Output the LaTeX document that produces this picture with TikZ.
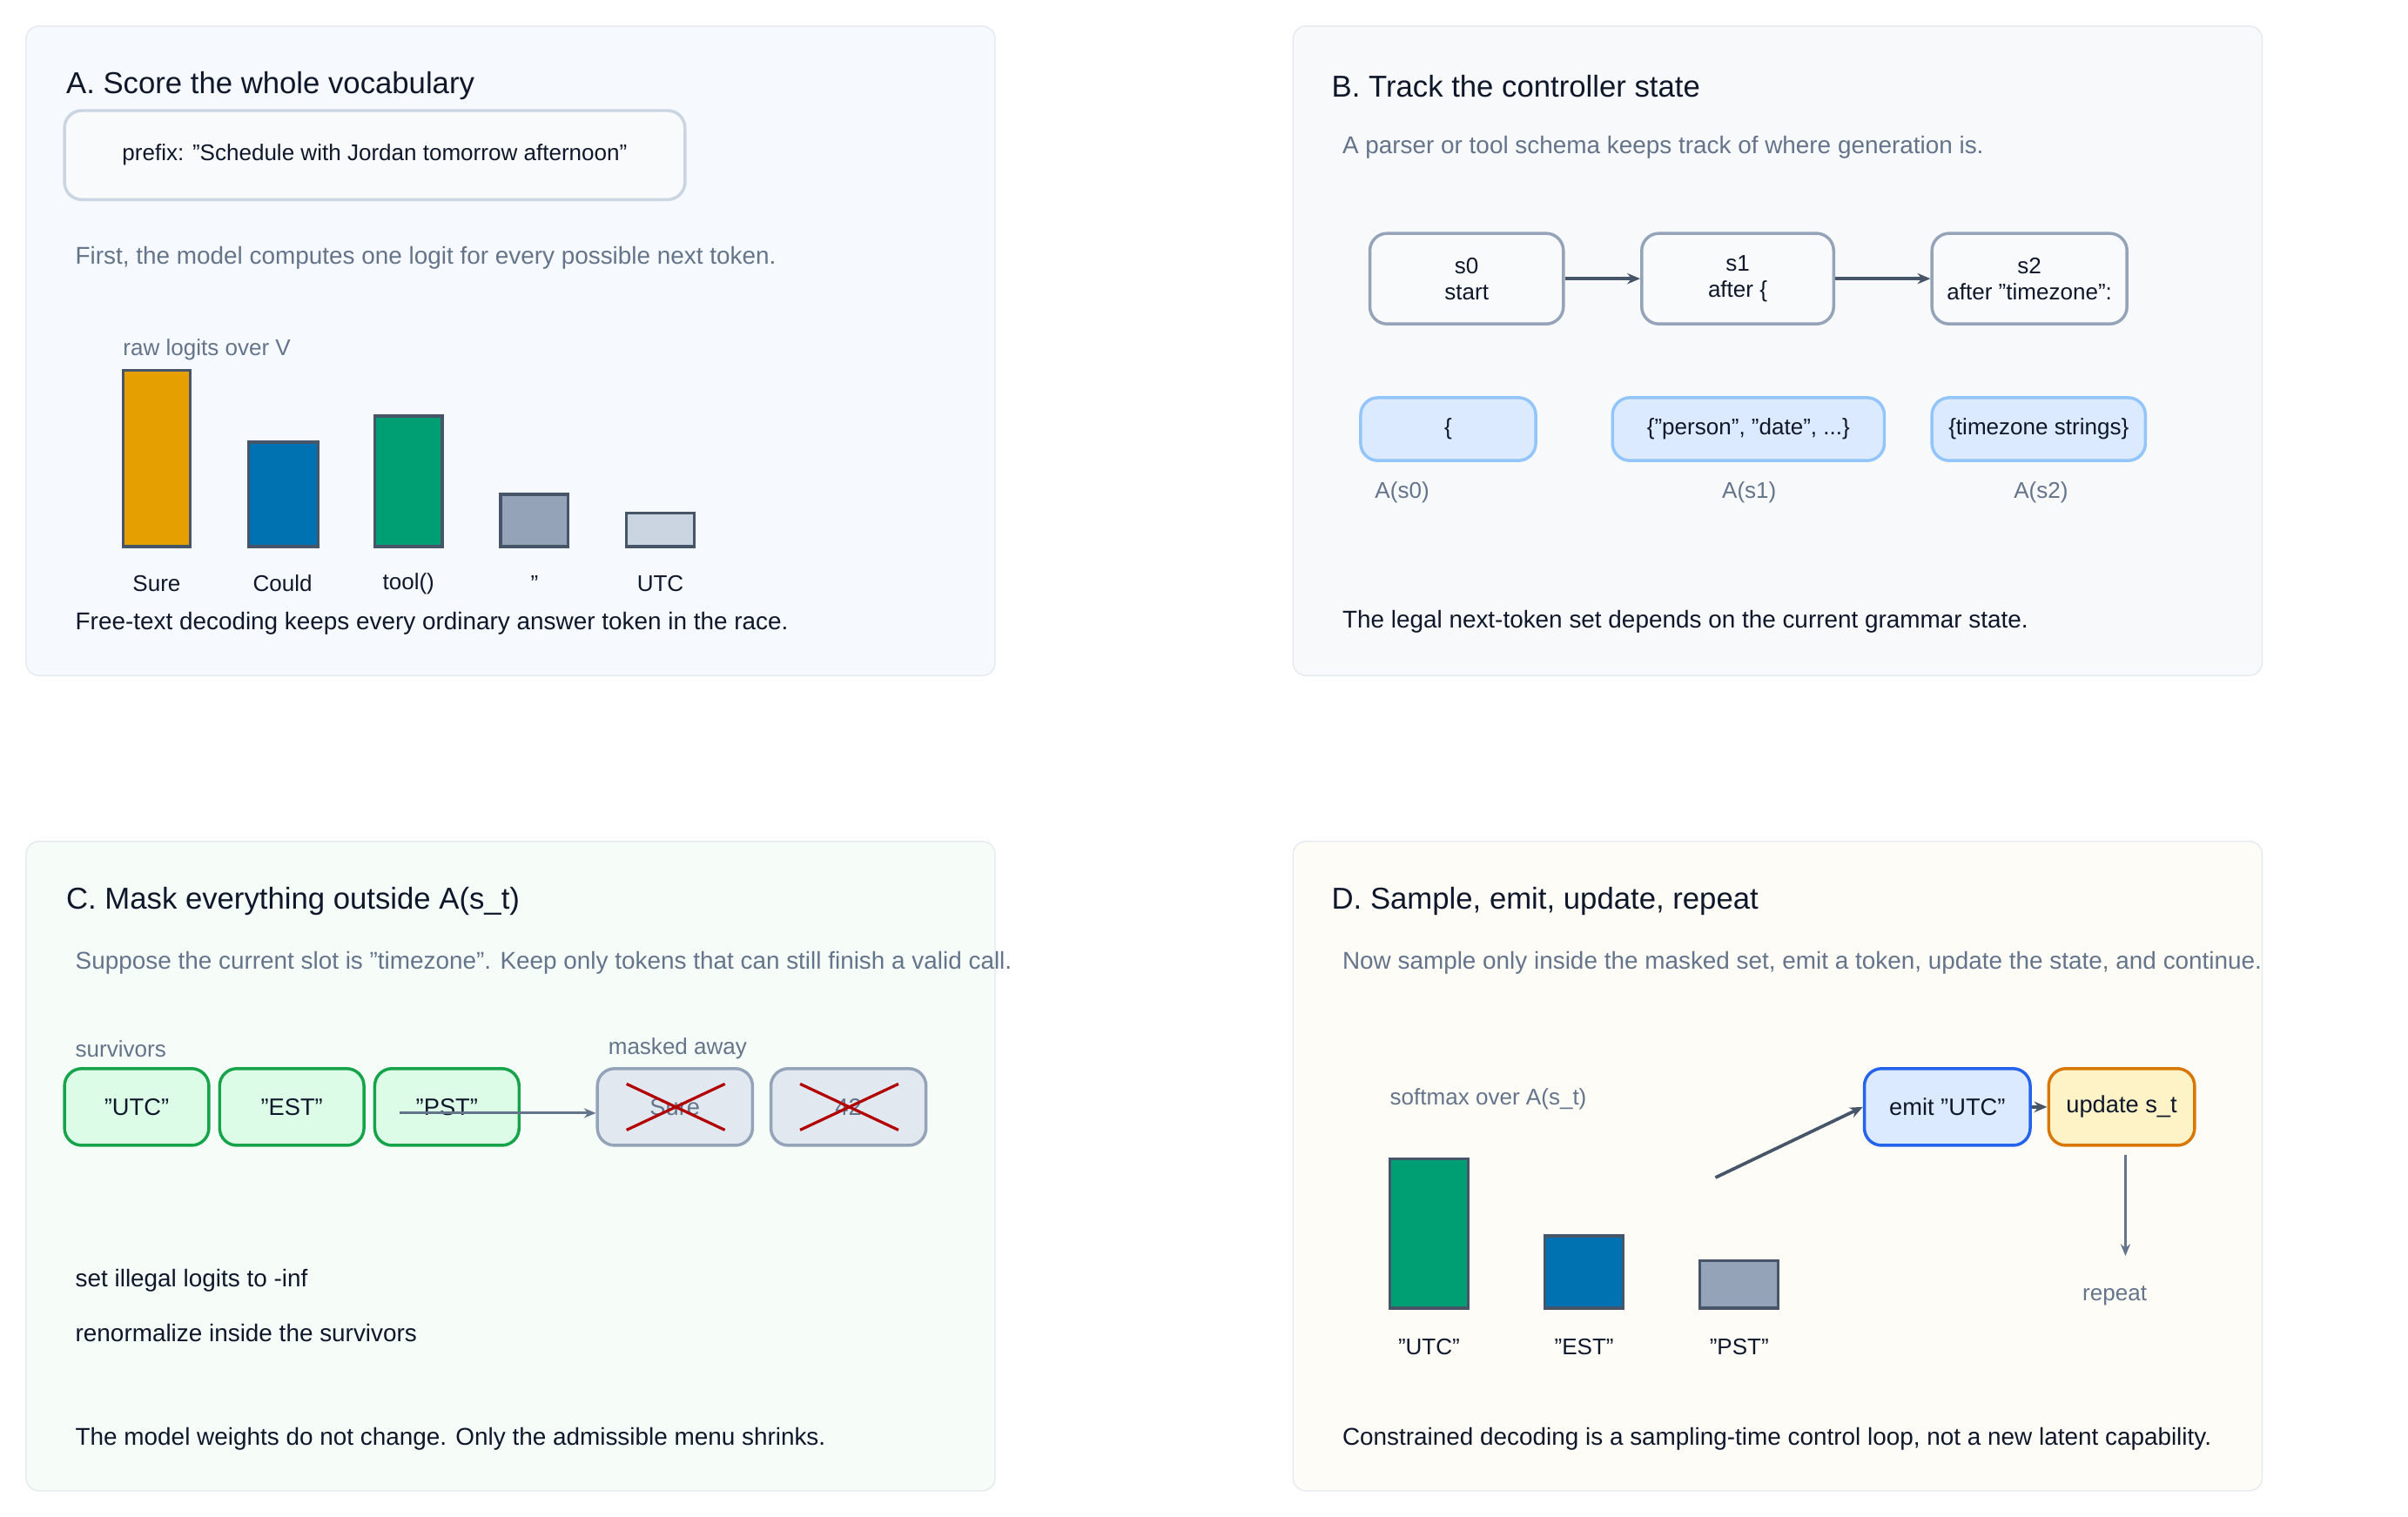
\documentclass[tikz,border=0pt]{standalone}
\usepackage{fontspec}
\setmainfont{Liberation Sans}
\usetikzlibrary{arrows.meta}
\definecolor{ink}{HTML}{0F172A}
\definecolor{muted}{HTML}{64748B}
\definecolor{edge}{HTML}{475569}
\begin{document}
\begin{tikzpicture}[x=0.05cm,y=-0.05cm,
  title/.style={anchor=west,font=\fontsize{28}{34}\selectfont,text=ink,inner sep=0},
  body/.style={anchor=west,font=\fontsize{22.5}{27}\selectfont,text=ink,inner sep=0},
  note/.style={anchor=west,font=\fontsize{22.5}{27}\selectfont,text=muted,inner sep=0},
  lab/.style={font=\fontsize{21}{25}\selectfont,text=ink,inner sep=0},
  glab/.style={font=\fontsize{21}{25}\selectfont,text=muted,inner sep=0},
  panel/.style={draw=#1!60!white,line width=1pt,rounded corners=12pt},
  bar/.style={draw=edge,line width=2.6pt},
  box/.style={rounded corners=16pt,line width=2.8pt,align=center,font=\fontsize{21}{24}\selectfont,text=ink},
  arr/.style={-{Stealth[length=12pt,width=10pt]},line width=3pt,draw=edge},
]
\useasboundingbox (0,0) rectangle (1568,988);
\fill[white] (0,0) rectangle (1568,988);
% panels
\filldraw[fill={rgb,255:red,246;green,249;blue,253},draw={rgb,255:red,226;green,232;blue,240},rounded corners=12pt,line width=1pt] (17,17) rectangle (648,440);
\filldraw[fill={rgb,255:red,248;green,249;blue,251},draw={rgb,255:red,226;green,232;blue,240},rounded corners=12pt,line width=1pt] (842,17) rectangle (1473,440);
\filldraw[fill={rgb,255:red,246;green,252;blue,248},draw={rgb,255:red,226;green,232;blue,240},rounded corners=12pt,line width=1pt] (17,548) rectangle (648,971);
\filldraw[fill={rgb,255:red,253;green,252;blue,246},draw={rgb,255:red,226;green,232;blue,240},rounded corners=12pt,line width=1pt] (842,548) rectangle (1473,971);

% ---------- A
\node[title] (tA) at (43,56) {A. Score the whole vocabulary};
\node[box,draw={rgb,255:red,203;green,213;blue,225},fill={rgb,255:red,248;green,250;blue,252},minimum width=404*0.05cm,minimum height=58*0.05cm] (pre) at (244,101) {prefix: "Schedule with Jordan tomorrow afternoon"};
\node[note] (nA) at (49,168) {First, the model computes one logit for every possible next token.};
\node[glab,anchor=west] (rl) at (80,228) {raw logits over V};
\filldraw[bar,fill={rgb,255:red,230;green,159;blue,0}] (80,241) rectangle (124,356);
\filldraw[bar,fill={rgb,255:red,0;green,114;blue,178}] (162,288) rectangle (207,356);
\filldraw[bar,fill={rgb,255:red,0;green,158;blue,115}] (244,271) rectangle (288,356);
\filldraw[bar,fill={rgb,255:red,148;green,163;blue,184}] (326,322) rectangle (370,356);
\filldraw[bar,fill={rgb,255:red,203;green,213;blue,225}] (408,334) rectangle (452,356);
\node[lab] (l1) at (102,380) {Sure};
\node[lab] (l2) at (184,380) {Could};
\node[lab] (l3) at (266,380) {tool()};
\node[lab] (l4) at (348,380) {"};
\node[lab] (l5) at (430,380) {UTC};
\node[body] (fA) at (49,406) {Free-text decoding keeps every ordinary answer token in the race.};

% ---------- B
\node[title] (tB) at (867,56) {B. Track the controller state};
\node[note] (nB) at (874,96) {A parser or tool schema keeps track of where generation is.};
\tikzset{st/.style={box,draw={rgb,255:red,148;green,163;blue,184},fill={rgb,255:red,248;green,250;blue,252},minimum height=59*0.05cm,inner sep=2pt}}
\node[st,minimum width=126*0.05cm] (s0) at (955,181.5) {s0\\start};
\node[st,minimum width=125*0.05cm] (s1) at (1131.5,181.5) {s1\\after \{};
\node[st,minimum width=127*0.05cm] (s2) at (1321.5,181.5) {s2\\after "timezone":};
\draw[arr] (s0) -- (s1);
\draw[arr] (s1) -- (s2);
\tikzset{as/.style={box,draw={rgb,255:red,147;green,197;blue,253},fill={rgb,255:red,219;green,234;blue,254},minimum height=41*0.05cm,inner sep=2pt}}
\node[as,minimum width=114*0.05cm] (a0) at (943,279.5) {\{};
\node[as,minimum width=177*0.05cm] (a1) at (1138.5,279.5) {\{"person", "date", ...\}};
\node[as,minimum width=139*0.05cm] (a2) at (1327.5,279.5) {\{timezone strings\}};
\node[glab] (la0) at (913,321) {A(s0)};
\node[glab] (la1) at (1139,321) {A(s1)};
\node[glab] (la2) at (1329,321) {A(s2)};
\node[body] (fB) at (874,405) {The legal next-token set depends on the current grammar state.};

% ---------- C
\node[title] (tC) at (43,587) {C. Mask everything outside A(s\_t)};
\node[note] (nC) at (49,627) {Suppose the current slot is "timezone". Keep only tokens that can still finish a valid call.};
\node[glab,anchor=west] (sv) at (49,683) {survivors};
\node[glab,anchor=west] (ma) at (396,683) {masked away};
\tikzset{sv/.style={box,draw={rgb,255:red,22;green,163;blue,74},fill={rgb,255:red,220;green,252;blue,231},minimum width=94*0.05cm,minimum height=50*0.05cm,font=\fontsize{22}{26}\selectfont},
  mk/.style={box,draw={rgb,255:red,148;green,163;blue,184},fill={rgb,255:red,226;green,232;blue,240},minimum width=101*0.05cm,minimum height=50*0.05cm,text={rgb,255:red,100;green,116;blue,139},font=\fontsize{22}{26}\selectfont}}
\node[sv] (u1) at (89,721) {"UTC"};
\node[sv] (u2) at (190,721) {"EST"};
\node[sv] (u3) at (291,721) {"PST"};
\node[mk] (m1) at (439.5,721) {Sure};
\node[mk] (m2) at (552.5,721) {42};
\draw[red!70!black,line width=2.6pt] (408,706) -- (472,736) (408,736) -- (472,706);
\draw[red!70!black,line width=2.6pt] (521,706) -- (585,736) (521,736) -- (585,706);
\coordinate (cs) at (260,725);
\draw[-{Stealth[length=11pt,width=9pt]},line width=2.4pt,draw=muted] (cs) -- (m1.west |- cs);
\node[body] (c1) at (49,834) {set illegal logits to -inf};
\node[body] (c2) at (49,868) {renormalize inside the survivors};
\node[body] (fC) at (49,937) {The model weights do not change. Only the admissible menu shrinks.};

% ---------- D
\node[title] (tD) at (867,587) {D. Sample, emit, update, repeat};
\node[note] (nD) at (874,627) {Now sample only inside the masked set, emit a token, update the state, and continue.};
\node[glab,anchor=west] (sm) at (905,716) {softmax over A(s\_t)};
\filldraw[bar,fill={rgb,255:red,0;green,158;blue,115}] (905,755) rectangle (956,852);
\filldraw[bar,fill={rgb,255:red,0;green,114;blue,178}] (1006,805) rectangle (1057,852);
\filldraw[bar,fill={rgb,255:red,148;green,163;blue,184}] (1107,821) rectangle (1158,852);
\node[lab] (d1) at (930.5,877) {"UTC"};
\node[lab] (d2) at (1031.5,877) {"EST"};
\node[lab] (d3) at (1132.5,877) {"PST"};
\node[box,draw={rgb,255:red,37;green,99;blue,235},fill={rgb,255:red,219;green,234;blue,254},minimum width=108*0.05cm,minimum height=50*0.05cm,inner sep=1pt,font=\fontsize{22}{26}\selectfont] (em) at (1268,721) {emit "UTC"};
\node[box,draw={rgb,255:red,217;green,119;blue,6},fill={rgb,255:red,254;green,243;blue,199},minimum width=95*0.05cm,minimum height=50*0.05cm,inner sep=1pt,font=\fontsize{22}{26}\selectfont] (up) at (1381.5,721) {update s\_t};
\coordinate (ds) at (1117,767);
\draw[arr] (ds) -- (em.west);
\draw[arr] (em) -- (up);
\coordinate (rp) at (1384,818);
\draw[-{Stealth[length=11pt,width=9pt]},line width=2.4pt,draw=muted] (1384,752) -- (rp);
\node[glab] (rpt) at (1377,844) {repeat};
\node[body] (fD) at (874,937) {Constrained decoding is a sampling-time control loop, not a new latent capability.};
\end{tikzpicture}
\end{document}
